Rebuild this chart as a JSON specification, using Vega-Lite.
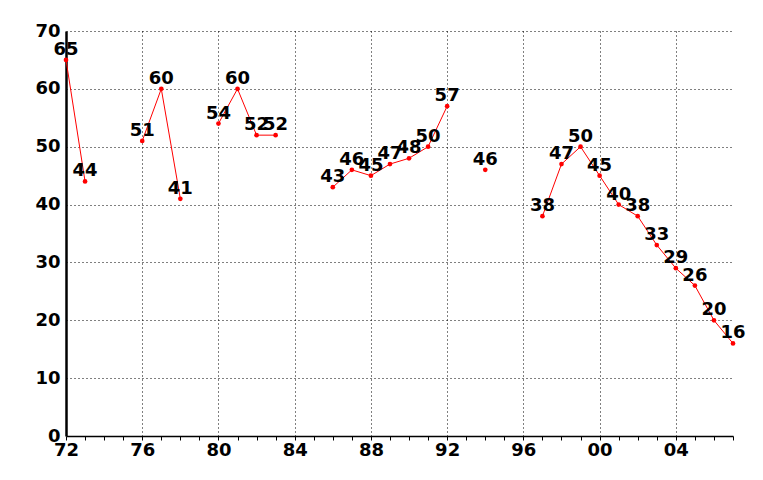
{
  "$schema": "https://vega.github.io/schema/vega-lite/v6.json",
  "width": 667,
  "height": 405,
  "autosize": {"type": "none"},
  "padding": {"left": 66, "top": 31, "right": 30, "bottom": 44},
  "background": "white",
  "config": {
    "view": {"stroke": null},
    "axis": {"labelFont": "DejaVu Sans", "labelFontWeight": "bold", "labelFontSize": 18, "labelColor": "black"}
  },
  "data": {
    "values": [
      {"year": 1972, "value": 65, "seg": "a"},
      {"year": 1973, "value": 44, "seg": "a"},
      {"year": 1976, "value": 51, "seg": "b"},
      {"year": 1977, "value": 60, "seg": "b"},
      {"year": 1978, "value": 41, "seg": "b"},
      {"year": 1980, "value": 54, "seg": "c"},
      {"year": 1981, "value": 60, "seg": "c"},
      {"year": 1982, "value": 52, "seg": "c"},
      {"year": 1983, "value": 52, "seg": "c"},
      {"year": 1986, "value": 43, "seg": "d"},
      {"year": 1987, "value": 46, "seg": "d"},
      {"year": 1988, "value": 45, "seg": "d"},
      {"year": 1989, "value": 47, "seg": "d"},
      {"year": 1990, "value": 48, "seg": "d"},
      {"year": 1991, "value": 50, "seg": "d"},
      {"year": 1992, "value": 57, "seg": "d"},
      {"year": 1994, "value": 46, "seg": "e"},
      {"year": 1997, "value": 38, "seg": "f"},
      {"year": 1998, "value": 47, "seg": "f"},
      {"year": 1999, "value": 50, "seg": "f"},
      {"year": 2000, "value": 45, "seg": "f"},
      {"year": 2001, "value": 40, "seg": "f"},
      {"year": 2002, "value": 38, "seg": "f"},
      {"year": 2003, "value": 33, "seg": "f"},
      {"year": 2004, "value": 29, "seg": "f"},
      {"year": 2005, "value": 26, "seg": "f"},
      {"year": 2006, "value": 20, "seg": "f"},
      {"year": 2007, "value": 16, "seg": "f"}
    ]
  },
  "encoding": {
    "x": {
      "field": "year",
      "type": "quantitative",
      "scale": {"domain": [1972, 2007], "nice": false, "zero": false},
      "axis": {
        "title": null,
        "values": [1972,1973,1974,1975,1976,1977,1978,1979,1980,1981,1982,1983,1984,1985,1986,1987,1988,1989,1990,1991,1992,1993,1994,1995,1996,1997,1998,1999,2000,2001,2002,2003,2004,2005,2006,2007],
        "labelExpr": "(datum.value - 1972) % 4 == 0 ? slice('0' + (datum.value % 100), -2) : ''",
        "labelOverlap": false,
        "labelFlush": false,
        "labelPadding": 1,
        "domainColor": "black",
        "domainWidth": 1.5,
        "tickColor": "black",
        "tickSize": 4,
        "tickWidth": 1,
        "grid": true,
        "gridColor": "black",
        "gridDash": [1, 3],
        "gridWidth": 1,
        "gridOpacity": {"condition": {"test": "(datum.value - 1972) % 4 == 0 && datum.value != 1972", "value": 1}, "value": 0}
      }
    },
    "y": {
      "field": "value",
      "type": "quantitative",
      "scale": {"domain": [0, 70], "nice": false},
      "axis": {
        "title": null,
        "values": [0, 10, 20, 30, 40, 50, 60, 70],
        "ticks": false,
        "labelPadding": 6,
        "domainColor": "black",
        "domainWidth": 2.5,
        "grid": true,
        "gridColor": "black",
        "gridDash": [1, 3],
        "gridWidth": 1,
        "gridOpacity": {"condition": {"test": "datum.value == 0", "value": 0}, "value": 1}
      }
    }
  },
  "layer": [
    {
      "mark": {"type": "line", "color": "#ff0000", "strokeWidth": 1},
      "encoding": {"detail": {"field": "seg"}}
    },
    {
      "mark": {"type": "point", "filled": true, "color": "#ff0000", "size": 22, "opacity": 1}
    },
    {
      "mark": {"type": "text", "font": "DejaVu Sans", "fontWeight": "bold", "fontSize": 18, "color": "black", "align": "center", "baseline": "alphabetic", "dy": -5},
      "encoding": {"text": {"field": "value", "type": "quantitative"}}
    }
  ]
}
